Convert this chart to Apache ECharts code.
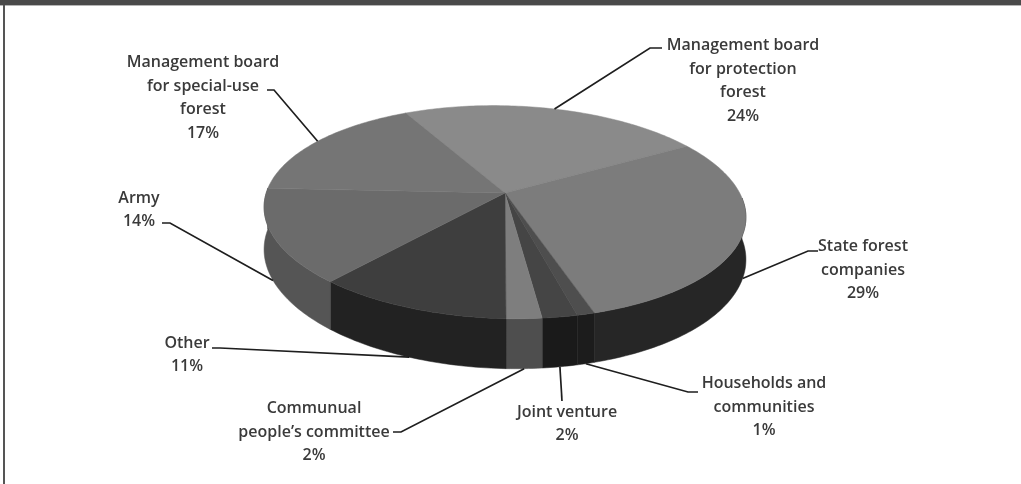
<!DOCTYPE html>
<html>
<head>
<meta charset="utf-8">
<script src="https://cdn.jsdelivr.net/npm/echarts@6/dist/echarts.min.js"></script>
<style>
  html, body { margin: 0; padding: 0; background: #fff; }
  #chart { width: 1021px; height: 484px; }
</style>
</head>
<body>
<div id="chart"></div>
<script>
// Forest land by managing owner (share of area, %)
const categories = [
  'Management board\nfor protection\nforest',
  'State forest\ncompanies',
  'Households and\ncommunities',
  'Joint venture',
  'Communual\npeople\u2019s committee',
  'Other',
  'Army',
  'Management board\nfor special-use\nforest'
];
const shares = [24, 29, 1, 2, 2, 11, 14, 17];

// Grey shades for the top face and the outer wall of each slice
const topColors  = ['#8a8a8a', '#7c7c7c', '#4e4e4e', '#454545', '#7e7e7e', '#3e3e3e', '#6b6b6b', '#757575'];
const wallColors = ['#3a3a3a', '#262626', '#1c1c1c', '#1a1a1a', '#4e4e4e', '#222222', '#555555', '#5a5a5a'];

// Label block centres and the elbow of each leader line
const labelCentres = [[743, 81], [863, 270], [764, 407], [567, 424], [314, 432], [187, 355], [139, 210], [203, 98]];
const labelElbows = [
  [[662, 48], [650, 48]],
  [[818, 251], [808, 251]],
  [[698, 392], [688, 392]],
  [[562, 401], [562, 401]],
  [[393, 432], [401, 432]],
  [[212, 348], [220, 348]],
  [[162, 223], [170, 223]],
  [[267, 90], [274, 90]]
];

// Disc geometry: tilted disc with a little perspective
const CX = 505, CY = 193, RX = 237, RY = 103, K = 0.18, TILT = 5, H = 41;
const START = -119; // degrees, clockwise from 3 o'clock

function proj(deg, drop) {
  const t = deg * Math.PI / 180;
  const c = Math.cos(t), s = Math.sin(t);
  const f = 1 / (1 - K * s);
  return [CX + RX * c * f, CY + RY * s * f + TILT * c * f + drop * f];
}

const total = shares.reduce((a, b) => a + b, 0);
const spans = [];
let acc = START;
shares.forEach(v => {
  const sweep = v / total * 360;
  spans.push([acc, acc + sweep]);
  acc += sweep;
});

function arc(a0, a1, drop) {
  const pts = [];
  const n = Math.max(2, Math.ceil(Math.abs(a1 - a0)));
  for (let i = 0; i <= n; i++) pts.push(proj(a0 + (a1 - a0) * i / n, drop));
  return pts;
}

function renderSlice(params) {
  const i = params.dataIndex;
  const [a0, a1] = spans[i];
  const children = [];

  // outer wall, only on the near half of the disc
  const lo = Math.max(a0, 0), hi = Math.min(a1, 180);
  if (hi > lo) {
    const top = arc(lo, hi, 0);
    const bottom = arc(hi, lo, H);
    children.push({
      type: 'polygon',
      shape: { points: top.concat(bottom) },
      style: { fill: wallColors[i], stroke: wallColors[i], lineWidth: 0.5 },
      z2: 1
    });
  }

  // top face
  children.push({
    type: 'polygon',
    shape: { points: [[CX, CY]].concat(arc(a0, a1, 0)) },
    style: { fill: topColors[i], stroke: topColors[i], lineWidth: 0.5 },
    z2: 2
  });

  // leader line from the slice rim to its label
  const mid = (a0 + a1) / 2;
  const near = Math.sin(mid * Math.PI / 180) > 0;
  const anchor = proj(mid, near ? H : 0);
  const el = labelElbows[i];
  children.push({
    type: 'polyline',
    shape: { points: [el[0], el[1], anchor] },
    style: { stroke: '#1e1e1e', lineWidth: 1.7, fill: null },
    z2: 5
  });

  // label
  const c = labelCentres[i];
  children.push({
    type: 'text',
    x: c[0], y: c[1],
    style: {
      text: categories[i] + '\n' + shares[i] + '%',
      fill: '#3a3a3a',
      font: '600 16px "Open Sans", sans-serif',
      lineHeight: 23.5,
      align: 'center',
      verticalAlign: 'middle'
    },
    z2: 6
  });

  return { type: 'group', children: children };
}

const chart = echarts.init(document.getElementById('chart'), null, { renderer: 'canvas' });
chart.setOption({
  backgroundColor: '#ffffff',
  animation: false,
  graphic: [
    { type: 'rect', shape: { x: 0, y: 0, width: 1021, height: 5 }, style: { fill: '#4a4a4a' }, z: 10 },
    { type: 'rect', shape: { x: 0, y: 5, width: 1021, height: 1 }, style: { fill: '#b5b5b5' }, z: 10 },
    { type: 'rect', shape: { x: 3, y: 5, width: 2, height: 479 }, style: { fill: '#555555' }, z: 10 }
  ],
  series: [{
    type: 'custom',
    coordinateSystem: 'none',
    data: shares,
    renderItem: renderSlice
  }]
});
</script>
</body>
</html>
